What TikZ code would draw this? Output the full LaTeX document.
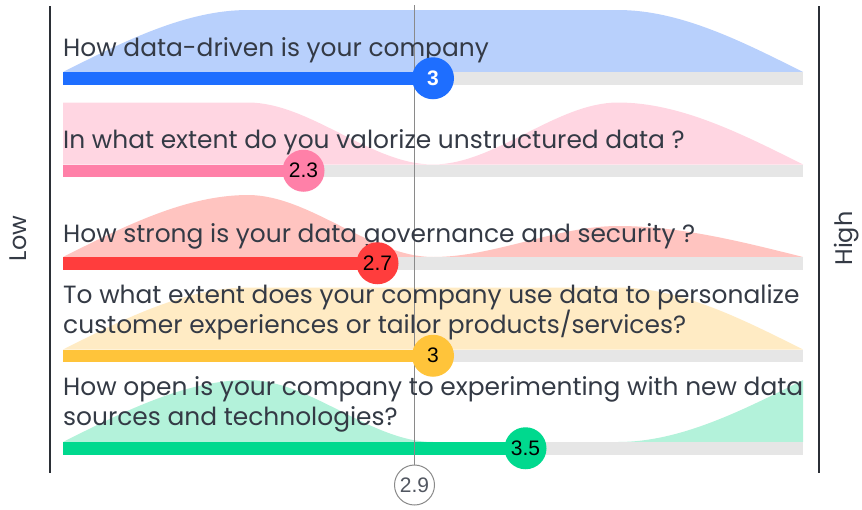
\documentclass[tikz,border=0pt]{standalone}
\usepackage{fontspec}
\setmainfont{Poppins}
\newfontfamily\numfont{Liberation Sans}
\definecolor{txt}{HTML}{343A45}
\definecolor{axisc}{HTML}{2B2F36}
\definecolor{track}{HTML}{E6E6E6}
\definecolor{blueD}{HTML}{1E6EFF}
\definecolor{blueL}{HTML}{B8D0FC}
\definecolor{pinkD}{HTML}{FF80A8}
\definecolor{pinkL}{HTML}{FFD6E2}
\definecolor{redD}{HTML}{FF3D3D}
\definecolor{redL}{HTML}{FFC4C0}
\definecolor{yelD}{HTML}{FFC43A}
\definecolor{yelL}{HTML}{FFEBC4}
\definecolor{grnD}{HTML}{00D98E}
\definecolor{grnL}{HTML}{B3F2DA}
\definecolor{avgc}{HTML}{8A8A8A}
\tikzset{
  qtext/.style={anchor=base west, inner sep=0, text=txt, font=\fontsize{24.9}{29}\selectfont},
  sidelbl/.style={anchor=base, inner sep=0, rotate=90, text=txt, font=\fontsize{24}{28}\selectfont},
  valc/.style={circle, minimum size=42pt, inner sep=0, text=black, font=\numfont\fontsize{21}{21}\selectfont},
  avgcirc/.style={circle, minimum size=40pt, inner sep=0, draw=avgc, line width=1pt, fill=white, text=txt!85, font=\numfont\fontsize{21}{21}\selectfont},
  axisline/.style={draw=axisc, line width=2.5pt},
  avgline/.style={draw=avgc, line width=1pt}
}
\begin{document}
\begin{tikzpicture}[x=1pt, y=-1pt]
\useasboundingbox (0,0) rectangle (862,509);
% densities
\fill[blueL] (63,72) .. controls (124.67,41) and (186.33,10) .. (248,10) -- (618,10) .. controls (679.67,10) and (741.33,41) .. (803,72) -- cycle;
\begin{scope}[shift={(0,164.5)}]
\fill[pinkL] (63,0) -- (63,-62) -- (248,-62) .. controls (309.67,-62) and (371.33,0) .. (433,0) .. controls (494.67,0) and (556.33,-62) .. (618,-62) .. controls (679.67,-62) and (741.33,-31) .. (803,0) -- cycle;
\end{scope}
\begin{scope}[shift={(0,257)}]
\fill[redL] (63,0) .. controls (124.67,-31) and (186.33,-62) .. (248,-62) .. controls (309.67,-62) and (371.33,0) .. (433,0) .. controls (494.67,0) and (556.33,-31) .. (618,-31) .. controls (679.67,-31) and (741.33,-15.5) .. (803,0) -- cycle;
\end{scope}
\begin{scope}[shift={(0,349.5)}]
\fill[yelL] (63,0) .. controls (124.67,-31) and (186.33,-62) .. (248,-62) -- (618,-62) .. controls (679.67,-62) and (741.33,-31) .. (803,0) -- cycle;
\end{scope}
\begin{scope}[shift={(0,442)}]
\fill[grnL] (63,0) .. controls (124.67,-31) and (186.33,-62) .. (248,-62) .. controls (309.67,-62) and (371.33,0) .. (433,0) -- (618,0) .. controls (679.67,0) and (741.33,-31) .. (803,-62) -- (803,0) -- cycle;
\end{scope}
% bars
\fill[track] (63,72) rectangle (803,84.5);
\fill[blueD] (63,72) rectangle (433,84.5);
\fill[track] (63,164.5) rectangle (803,177);
\fill[pinkD] (63,164.5) rectangle (303.5,177);
\fill[track] (63,257) rectangle (803,269.5);
\fill[redD] (63,257) rectangle (377.5,269.5);
\fill[track] (63,349.5) rectangle (803,362);
\fill[yelD] (63,349.5) rectangle (433,362);
\fill[track] (63,442) rectangle (803,454.5);
\fill[grnD] (63,442) rectangle (525.5,454.5);
% axes
\coordinate (lt) at (50,6); \coordinate (lb) at (50,473);
\coordinate (rt) at (819,6); \coordinate (rb) at (819,473);
\draw[axisline] (lt) -- (lb);
\draw[axisline] (rt) -- (rb);
\node[sidelbl] (low) at (27,238.5) {Low};
\node[sidelbl] (high) at (852,238.5) {High};
% average
\node[avgcirc] (avg) at (414.5,485) {2.9};
\coordinate (avgtop) at (414.5,5);
\draw[avgline] (avgtop) -- (avg.north);
% questions
\node[qtext] (q1) at (63,56) {How data-driven is your company};
\node[qtext] (q2) at (63,148) {In what extent do you valorize unstructured data ?};
\node[qtext] (q3) at (63,242) {How strong is your data governance and security ?};
\node[qtext] (q4a) at (63,303) {To what extent does your company use data to personalize};
\node[qtext] (q4b) at (63,333) {customer experiences or tailor products/services?};
\node[qtext] (q5a) at (63,395.5) {How open is your company to experimenting with new data};
\node[qtext] (q5b) at (63,425.5) {sources and technologies?};
% value circles
\node[valc, fill=blueD, text=white, font=\numfont\bfseries\fontsize{21}{21}\selectfont] (v1) at (433,78.25) {3};
\node[valc, fill=pinkD] (v2) at (303.5,170.75) {2.3};
\node[valc, fill=redD] (v3) at (377.5,263.25) {2.7};
\node[valc, fill=yelD] (v4) at (433,355.75) {3};
\node[valc, fill=grnD] (v5) at (525.5,448.25) {3.5};
\end{tikzpicture}
\end{document}
